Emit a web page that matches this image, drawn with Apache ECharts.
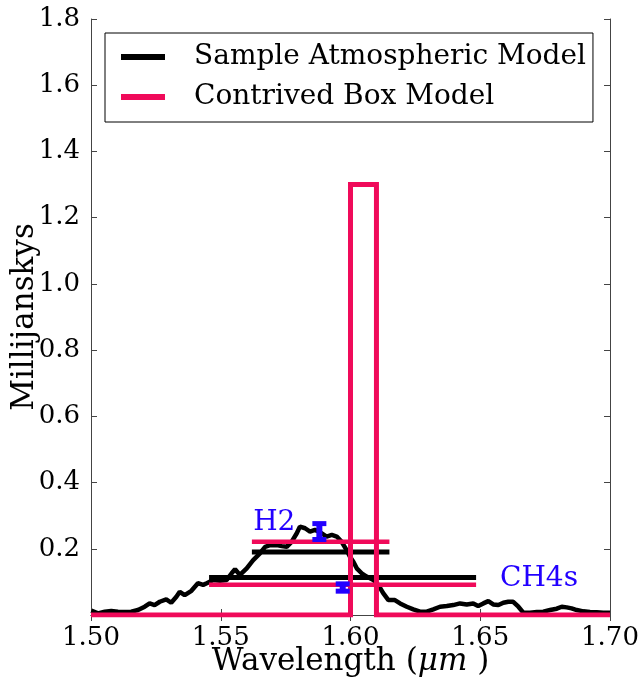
<!DOCTYPE html>
<html><head><meta charset="utf-8">
<script src="https://cdn.jsdelivr.net/npm/echarts@6/dist/echarts.min.js"></script>
<style>html,body{margin:0;padding:0;background:#fff}#c{width:643px;height:682px}</style>
</head><body><div id="c"></div>
<script>
// Sample atmospheric model spectrum (wavelength in µm, flux in mJy)
const wavelength = [1.5001,1.5027,1.5053,1.5078,1.5104,1.5130,1.5155,1.5181,1.5207,1.5226,1.5245,1.5265,1.5290,1.5309,1.5329,1.5342,1.5361,1.5387,1.5412,1.5432,1.5446,1.5471,1.5497,1.5523,1.5542,1.5555,1.5574,1.5600,1.5625,1.5651,1.5671,1.5690,1.5716,1.5735,1.5754,1.5773,1.5793,1.5805,1.5825,1.5844,1.5863,1.5882,1.5908,1.5928,1.5947,1.5966,1.5985,1.5998,1.6011,1.6024,1.6043,1.6062,1.6088,1.6107,1.6126,1.6146,1.6171,1.6191,1.6217,1.6242,1.6268,1.6294,1.6319,1.6345,1.6371,1.6396,1.6422,1.6448,1.6473,1.6492,1.6512,1.6531,1.6550,1.6570,1.6589,1.6608,1.6627,1.6647,1.6666,1.6692,1.6718,1.6743,1.6769,1.6795,1.6814,1.6833,1.6852,1.6872,1.6897,1.6923,1.6949,1.6974,1.7000];
const flux = [0.013,0.005,0.010,0.012,0.010,0.009,0.010,0.015,0.025,0.035,0.030,0.040,0.047,0.037,0.055,0.070,0.060,0.073,0.096,0.091,0.096,0.106,0.103,0.106,0.126,0.138,0.121,0.141,0.166,0.186,0.206,0.211,0.211,0.208,0.206,0.221,0.247,0.267,0.262,0.252,0.257,0.250,0.237,0.242,0.237,0.221,0.196,0.176,0.161,0.141,0.126,0.116,0.106,0.091,0.066,0.045,0.045,0.035,0.025,0.017,0.010,0.010,0.017,0.025,0.027,0.030,0.035,0.032,0.035,0.027,0.035,0.042,0.032,0.030,0.037,0.040,0.040,0.025,0.007,0.007,0.009,0.010,0.015,0.019,0.025,0.023,0.020,0.015,0.011,0.009,0.008,0.007,0.007];

// Contrived box model (step)
const boxX = [1.50, 1.60, 1.60, 1.61, 1.61, 1.70];
const boxY = [0, 0, 1.3, 1.3, 0, 0];

// Band-averaged values: [start, end]
const h2Band = [1.562, 1.615];
const ch4Band = [1.5455, 1.6484];
const atmBandValues = [0.190, 0.113];   // H2, CH4s
const boxBandValues = [0.221, 0.091];   // H2, CH4s

// Observations with error bars
const obsX = [1.588, 1.597];
const obsY = [0.252, 0.083];
const obsErr = [0.024, 0.011];

// Band labels
const bandNames = ['H2', 'CH4s'];
const bandLabelX = [1.5625, 1.6576];
const bandLabelY = [0.278, 0.109];

const xTicks = [1.50, 1.55, 1.60, 1.65, 1.70];
const yTicks = [0.2, 0.4, 0.6, 0.8, 1.0, 1.2, 1.4, 1.6, 1.8];

const BLACK = '#000000';
const PINK = '#F00A5A';
const BLUE = '#2200FF';
const FONT = 'DejaVu Serif';

const seg = (band, v) => [[band[0], v], [band[1], v]];

const chart = echarts.init(document.getElementById('c'), null, {renderer: 'canvas'});
const axisCommon = {
  type: 'value',
  axisLine: {show: true, lineStyle: {color: '#444', width: 1}},
  axisTick: {show: true, inside: true, length: 6, lineStyle: {color: '#444'}},
  splitLine: {show: false},
};
chart.setOption({
  animation: false,
  backgroundColor: '#fff',
  grid: {left: 91, right: 33, top: 19, bottom: 67, containLabel: false, outerBoundsMode: 'none'},
  legend: {
    orient: 'vertical', left: 105, top: 33,
    padding: [9, 7, 10, 16], itemGap: 10,
    itemWidth: 44, itemHeight: 6,
    borderColor: '#000', borderWidth: 1, backgroundColor: '#fff',
    textStyle: {fontFamily: FONT, fontSize: 28, color: '#000', lineHeight: 30, padding: [0, 0, 0, 24]},
    data: [{name: 'Sample Atmospheric Model', icon: 'rect'}, {name: 'Contrived Box Model', icon: 'rect'}],
    z: 20
  },
  xAxis: [
    Object.assign({}, axisCommon, {
      min: 1.5, max: 1.7, interval: 0.05, position: 'bottom',
      name: 'Wavelength ({i|μm} )', nameLocation: 'middle', nameGap: 31, nameMoveOverlap: false,
      nameTextStyle: {fontFamily: FONT, fontSize: 31, color: '#000',
        rich: {i: {fontFamily: FONT, fontStyle: 'italic', fontSize: 31, color: '#000'}}},
      axisLabel: {fontFamily: FONT, fontSize: 26, color: '#000', margin: 10,
        formatter: v => xTicks.some(t => Math.abs(t - v) < 1e-6) ? v.toFixed(2) : ''}
    }),
    Object.assign({}, axisCommon, {min: 1.5, max: 1.7, interval: 0.05, position: 'top', axisLabel: {show: false}})
  ],
  yAxis: [
    Object.assign({}, axisCommon, {
      min: 0, max: 1.8, interval: 0.2, position: 'left',
      name: 'Millijanskys', nameLocation: 'middle', nameGap: 51, nameMoveOverlap: false,
      nameTextStyle: {fontFamily: FONT, fontSize: 31, color: '#000'},
      axisLabel: {fontFamily: FONT, fontSize: 26, color: '#000', margin: 11,
        formatter: v => yTicks.some(t => Math.abs(t - v) < 1e-6) ? v.toFixed(1) : ''}
    }),
    Object.assign({}, axisCommon, {min: 0, max: 1.8, interval: 0.2, position: 'right', axisLabel: {show: false}})
  ],
  series: [
    {name: 'Sample Atmospheric Model', type: 'line', showSymbol: false, symbol: 'none', z: 2,
      itemStyle: {color: BLACK}, lineStyle: {color: BLACK, width: 4.5},
      data: wavelength.map((w, i) => [w, flux[i]])},
    {name: 'Sample Atmospheric Model', type: 'line', symbol: 'none', z: 3,
      itemStyle: {color: BLACK}, lineStyle: {color: BLACK, width: 5}, data: seg(h2Band, atmBandValues[0])},
    {name: 'Sample Atmospheric Model', type: 'line', symbol: 'none', z: 3,
      itemStyle: {color: BLACK}, lineStyle: {color: BLACK, width: 5}, data: seg(ch4Band, atmBandValues[1])},
    {name: 'Contrived Box Model', type: 'line', symbol: 'none', z: 4,
      itemStyle: {color: PINK}, lineStyle: {color: PINK, width: 4.5}, data: seg(h2Band, boxBandValues[0])},
    {name: 'Contrived Box Model', type: 'line', symbol: 'none', z: 4,
      itemStyle: {color: PINK}, lineStyle: {color: PINK, width: 4.5}, data: seg(ch4Band, boxBandValues[1])},
    {name: 'Contrived Box Model', type: 'line', symbol: 'none', z: 5,
      itemStyle: {color: PINK}, lineStyle: {color: PINK, width: 5, join: 'miter'},
      data: boxX.map((x, i) => [x, boxY[i]])},
    {name: 'obs', type: 'custom', z: 6,
      data: obsX.map((x, i) => [x, obsY[i], obsErr[i]]),
      renderItem: (params, api) => {
        const x = api.value(0), y = api.value(1), e = api.value(2);
        const lo = api.coord([x, y - e]), hi = api.coord([x, y + e]);
        const cw = 7;
        const st = {stroke: BLUE, lineWidth: 5};
        return {type: 'group', children: [
          {type: 'line', shape: {x1: lo[0], y1: lo[1], x2: hi[0], y2: hi[1]}, style: {stroke: BLUE, lineWidth: 6}},
          {type: 'line', shape: {x1: lo[0] - cw, y1: lo[1], x2: lo[0] + cw, y2: lo[1]}, style: st},
          {type: 'line', shape: {x1: hi[0] - cw, y1: hi[1], x2: hi[0] + cw, y2: hi[1]}, style: st}
        ]};
      }
    },
    {name: 'labels', type: 'scatter', symbolSize: 0, z: 7,
      itemStyle: {opacity: 1, color: BLUE},
      data: bandNames.map((n, i) => [bandLabelX[i], bandLabelY[i], n]),
      label: {show: true, position: 'right', distance: 0, formatter: p => p.value[2], opacity: 1,
        textBorderWidth: 0, fontFamily: FONT, fontSize: 28, color: BLUE}}
  ]
});
</script></body></html>
